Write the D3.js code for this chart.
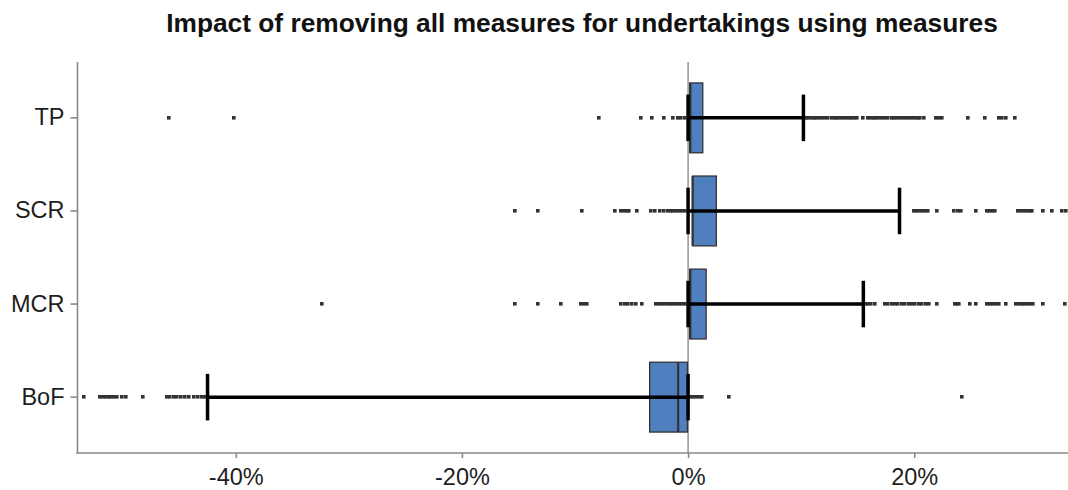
<!DOCTYPE html>
<html>
<head>
<meta charset="utf-8">
<script src="https://cdn.jsdelivr.net/npm/d3@7/dist/d3.min.js"></script>
<style>
	body { margin: 0; background: #fff; }
	svg { display: block; font-family: "Liberation Sans", Arial, sans-serif; }
</style>
</head>
<body>
<div class="chart__impact"><svg></svg></div>
<script>
(function() {

//DATA (values in %)

	var categories = ["TP", "SCR", "MCR", "BoF"];
	var boxLow = [0.15, 0.4, 0.15, -3.4];
	var boxMid = [0.2, 0.4, 0.2, -0.88];
	var boxHigh = [1.3, 2.5, 1.6, -0.05];
	var whiskerLow = [0, 0, 0, -42.5];
	var whiskerHigh = [10.2, 18.7, 15.5, 0];

	var tpOutliers = [-45.9, -40.2, -7.9, -4.2, -3.2, -2.1, -1.3, -0.9, -0.6, -0.3,
		10.4, 10.6, 10.85, 11.1, 11.35, 11.6, 11.85, 12.1, 12.35,
		12.7, 12.95, 13.2, 13.45, 13.7, 13.95, 14.2, 14.45, 14.7, 14.9,
		15.5, 15.9, 16.15, 16.4, 16.6, 16.9, 17.15, 17.4, 17.7,
		18.0, 18.25, 18.5, 18.75, 19.0, 19.3, 19.55, 19.8, 20.05, 20.3, 20.55, 20.9,
		21.9, 22.2, 22.5, 24.8, 26.3, 27.5, 27.8, 28.1, 28.9];
	var scrOutliers = [-15.3, -13.3, -9.4, -6.5, -5.9, -5.65, -5.4, -5.2, -4.5, -3.3, -2.9, -2.5, -2.1,
		-1.8, -1.55, -1.3, -1.05, -0.8, -0.55, -0.3,
		19.95, 20.2, 20.45, 20.7, 20.95, 21.2, 22.0, 23.55, 23.85, 24.1, 25.5,
		26.4, 26.65, 26.9, 27.1, 29.2, 29.45, 29.7, 29.95, 30.2, 30.45, 31.4, 32.2, 33.1, 33.4];
	var mcrOutliers = [-32.4, -15.3, -13.3, -11.2, -9.5, -9.2, -8.9, -5.9, -5.6, -5.3, -5.0, -4.6, -4.1,
		-2.85, -2.6, -2.35, -2.05, -1.8, -1.55, -1.3, -1.05, -0.8, -0.55, -0.3,
		15.7, 15.95, 16.2, 16.5, 17.4, 17.7, 18.0, 18.3, 18.6, 18.9, 19.2, 19.5, 19.8, 20.1, 20.4, 20.7, 21.0, 21.3,
		22.0, 23.6, 23.8, 24.0, 24.9, 25.5, 26.4, 26.7, 27.0, 27.25, 27.5, 28.1,
		29.0, 29.25, 29.5, 29.75, 30.0, 30.25, 30.5, 31.4, 33.3];
	var bofOutliers = [-53.4, -52.0, -51.75, -51.5, -51.25, -51.0, -50.75, -50.5, -50.1, -49.7, -48.2,
		-46.1, -45.8, -45.5, -45.2, -44.85, -44.5, -44.1, -43.7, -43.3, -43.0, -42.7,
		0.15, 0.45, 0.74, 1.0, 1.2, 3.6, 24.2];
	var outliers = [tpOutliers, scrOutliers, mcrOutliers, bofOutliers];

	var xTicks = [-40, -20, 0, 20];
	var xDomain = [-54, 33.6];
	var title = "Impact of removing all measures for undertakings using measures";

//VARS

	var width = 1068;
	var height = 490;
	var margin = {top: 62, right: 0, bottom: 37, left: 77.5};
	var scales = {};
	var chart = d3.select('.chart__impact');

	function setupScales() {
		scales.x = d3.scaleLinear()
			.domain(xDomain)
			.range([margin.left, width - margin.right]);
		scales.y = d3.scaleBand()
			.domain(categories)
			.range([margin.top, height - margin.bottom])
			.paddingOuter(0.1)
			.paddingInner(0);
	}

	function rows() {
		return categories.map(function(c, i) {
			return {
				cat: c,
				low: boxLow[i], mid: boxMid[i], high: boxHigh[i],
				wlo: whiskerLow[i], whi: whiskerHigh[i],
				pts: outliers[i]
			};
		});
	}

	function centerY(c) {
		return scales.y(c) + scales.y.bandwidth() / 2;
	}

	function drawAxes(svg) {
		var yAxis = svg.append('g')
			.attr('class', 'axis axis--y')
			.attr('transform', 'translate(' + margin.left + ',0)')
			.call(d3.axisLeft(scales.y).tickSize(7).tickPadding(6));
		yAxis.select('.domain').attr('d', 'M0,' + margin.top + 'V' + (height - margin.bottom + 1));

		var xAxis = svg.append('g')
			.attr('class', 'axis axis--x')
			.attr('transform', 'translate(0,' + (height - margin.bottom) + ')')
			.call(d3.axisBottom(scales.x).tickValues(xTicks).tickSize(5).tickPadding(10)
				.tickFormat(function(d) { return d + '%'; }));
		xAxis.select('.domain').attr('d', 'M' + (margin.left - 1) + ',0H' + width);

		svg.selectAll('.axis .domain, .axis line')
			.attr('stroke', '#8a8a8a')
			.attr('stroke-width', 1.6);
		svg.selectAll('.axis text')
			.attr('fill', '#1e1e1e')
			.style('font-size', '23.5px');
	}

	function drawChart(svg) {
		var data = rows();
		var bw = scales.y.bandwidth();

		// zero line
		svg.append('line')
			.attr('x1', scales.x(0)).attr('x2', scales.x(0))
			.attr('y1', margin.top).attr('y2', height - margin.bottom)
			.attr('stroke', '#7a7a7a')
			.attr('stroke-width', 1.2);

		// outlier points
		var pg = svg.append('g').attr('class', 'points');
		data.forEach(function(d) {
			pg.selectAll(null)
				.data(d.pts)
				.enter()
				.append('rect')
				.attr('x', function(v) { return Math.round(scales.x(v)) - 2; })
				.attr('y', Math.round(centerY(d.cat)) - 2)
				.attr('width', 3.6)
				.attr('height', 3.6)
				.attr('fill', '#333');
		});

		// boxes
		var boxH = bw * 0.75;
		var boxes = svg.selectAll('.box')
			.data(data)
			.enter()
			.append('g')
			.attr('class', 'box');
		boxes.append('rect')
			.attr('x', function(d) { return scales.x(d.low); })
			.attr('y', function(d) { return centerY(d.cat) - boxH / 2; })
			.attr('width', function(d) { return scales.x(d.high) - scales.x(d.low); })
			.attr('height', boxH)
			.attr('fill', '#4f7fbe')
			.attr('stroke', '#333')
			.attr('stroke-width', 1.3);
		boxes.append('line')
			.attr('x1', function(d) { return scales.x(d.mid); })
			.attr('x2', function(d) { return scales.x(d.mid); })
			.attr('y1', function(d) { return centerY(d.cat) - boxH / 2; })
			.attr('y2', function(d) { return centerY(d.cat) + boxH / 2; })
			.attr('stroke', '#333')
			.attr('stroke-width', 2.2);

		// error bars
		var capH = bw * 0.5;
		var eb = svg.selectAll('.errbar')
			.data(data)
			.enter()
			.append('g')
			.attr('class', 'errbar')
			.attr('stroke', '#000')
			.attr('stroke-width', 3.5);
		eb.append('line')
			.attr('x1', function(d) { return scales.x(d.wlo); })
			.attr('x2', function(d) { return scales.x(d.whi); })
			.attr('y1', function(d) { return centerY(d.cat); })
			.attr('y2', function(d) { return centerY(d.cat); });
		['wlo', 'whi'].forEach(function(k) {
			eb.append('line')
				.attr('x1', function(d) { return scales.x(d[k]); })
				.attr('x2', function(d) { return scales.x(d[k]); })
				.attr('y1', function(d) { return centerY(d.cat) - capH / 2; })
				.attr('y2', function(d) { return centerY(d.cat) + capH / 2; });
		});
	}

	function drawTitle(svg) {
		svg.append('text')
			.attr('x', 582)
			.attr('y', 32)
			.attr('text-anchor', 'middle')
			.attr('fill', '#111')
			.style('font-size', '26.3px')
			.style('font-weight', 'bold')
			.text(title);
	}

	function init() {
		var svg = chart.select('svg')
			.attr('width', width)
			.attr('height', height);
		setupScales();
		drawChart(svg);
		drawAxes(svg);
		drawTitle(svg);
	}

	init()
})()
</script>
</body>
</html>
